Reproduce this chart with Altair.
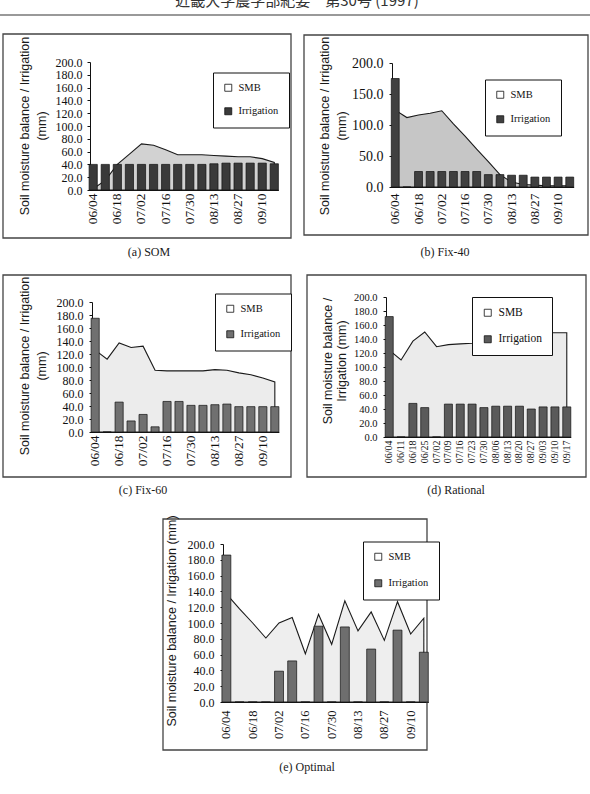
import altair as alt
import pandas as pd

W, H = 590, 794

# ---------------- data ----------------
dates = ["06/04", "06/11", "06/18", "06/25", "07/02", "07/09", "07/16", "07/23",
         "07/30", "08/06", "08/13", "08/20", "08/27", "09/03", "09/10", "09/17"]
tick_dates = dates[::2]

som_smb = [2, 15, 40, 56, 72, 70, 63, 55, 55, 55, 54, 53, 52, 52, 49, 43]
som_irr = [40, 40, 40, 40, 40, 40, 40, 40, 40, 40, 41, 42, 42, 42, 42, 41]

fix40_smb = [124, 112, 116, 119, 123, 102, 82, 61, 41, 20, 8, 4, 3, 2, 2, 2]
fix40_irr = [175, 0, 25, 25, 25, 25, 25, 25, 20, 20, 19, 19, 16, 16, 16, 16]

fix60_smb = [126, 112, 137, 130, 132, 95, 94, 94, 94, 94, 96, 95, 91, 88, 83, 77]
fix60_irr = [175, 0, 46, 17, 27, 8, 47, 47, 41, 41, 42, 43, 39, 39, 39, 39]

rational_smb = [124, 110, 137, 150, 129, 132, 133, 134, 137, 140, 143, 145, 147, 149, 149, 149]
rational_irr = [172, 0, 48, 42, 0, 47, 47, 47, 42, 44, 44, 44, 40, 43, 43, 43]

optimal_smb = [137, 118, 100, 81, 100, 107, 61, 111, 73, 128, 90, 114, 78, 127, 86, 106]
optimal_irr = [186, 0, 0, 0, 39, 52, 0, 96, 0, 95, 0, 67, 0, 91, 0, 63]

legend_labels = ["SMB", "Irrigation"]
captions = ["(a) SOM", "(b) Fix-40", "(c) Fix-60", "(d) Rational", "(e) Optimal"]
title_full = "Soil moisture balance / Irrigation"
title_mm = "(mm)"
title_d1 = "Soil moisture balance /"
title_d2 = "Irrigation (mm)"
title_e = "Soil moisture balance / Irrigation (mm)"
header_text = "近畿大学農学部紀要　第30号 (1997)"

SERIF = "Liberation Serif"
SANS = "Liberation Sans"

# ---------------- layout / style ----------------
panels = [
    dict(smb=som_smb, irr=som_irr, xr=(89.1, 278.4), ytop=62, ybot=190, yx=90, ystep=20,
         yfs=12, ypad=5, xfs=13.5, xpad=3, xvals=tick_dates, leg=(213, 72.5), lfs=10.5, rowpad=12.5,
         area="#d2d2d2", bar="#3a3a3a", box=(3, 34, 291, 238)),
    dict(smb=fix40_smb, irr=fix40_irr, xr=(391.3, 573.7), ytop=63, ybot=187, yx=392, ystep=50,
         yfs=14, ypad=6, xfs=13.5, xpad=6, xvals=tick_dates, leg=(485, 79.5), lfs=10.5, rowpad=13.5,
         area="#c6c6c6", bar="#404040", box=(304, 35, 588, 235)),
    dict(smb=fix60_smb, irr=fix60_irr, xr=(91.1, 278.9), ytop=302, ybot=432, yx=92, ystep=20,
         yfs=12, ypad=6, xfs=13.5, xpad=3, xvals=tick_dates, leg=(215, 293.5), lfs=10.5, rowpad=14.5,
         area="#ececec", bar="#707070", box=(3, 275, 291, 477)),
    dict(smb=rational_smb, irr=rational_irr, xr=(385.2, 570.8), ytop=297, ybot=437, yx=386, ystep=20,
         yfs=10.5, ypad=6, xfs=10, xpad=3, xvals=dates, leg=(472, 297), lfs=11.5, rowpad=13.5,
         area="#ebebeb", bar="#5a5a5a", box=(307, 275, 586, 477)),
    dict(smb=optimal_smb, irr=optimal_irr, xr=(221.9, 428.3), ytop=544, ybot=702, yx=223, ystep=20,
         yfs=12, ypad=6, xfs=12.5, xpad=8, xvals=tick_dates, leg=(363, 541.5), lfs=10.5, rowpad=15.5,
         area="#eeeeee", bar="#6e6e6e", box=(163, 519, 427, 750)),
]

texts = [
    # (text, x, y, angle, font, size)
    (title_full, 25, 126, 270, SANS, 12.5), (title_mm, 42, 126, 270, SANS, 12.5),
    (title_full, 325, 126, 270, SANS, 12.5), (title_mm, 342, 126, 270, SANS, 12.5),
    (title_full, 25, 366, 270, SANS, 12.5), (title_mm, 42, 366, 270, SANS, 12.5),
    (title_d1, 328, 361, 270, SANS, 12.5), (title_d2, 342, 361, 270, SANS, 12.5),
    (title_e, 172, 621, 270, SANS, 12.5),
    (captions[0], 149, 252, 0, SERIF, 12), (captions[1], 445, 252, 0, SERIF, 12),
    (captions[2], 143, 490, 0, SERIF, 12), (captions[3], 456, 490, 0, SERIF, 12),
    (captions[4], 307, 767, 0, SERIF, 12),
]

one = pd.DataFrame({"k": [0]})


def make_panel(p):
    df = pd.DataFrame({"date": dates, "SMB": p["smb"], "Irrigation": p["irr"],
                       "series": ["Irrigation"] * len(dates)})
    xscale = alt.Scale(domain=dates, range=list(p["xr"]), paddingInner=0.32, paddingOuter=0)
    yscale = alt.Scale(domain=[0, 200], range=[p["ybot"], p["ytop"]], nice=False)
    xaxis = alt.Axis(orient="bottom", offset=p["ybot"] - H, values=p["xvals"], labelAngle=270,
                     labelFont=SERIF, labelFontSize=p["xfs"], labelColor="#111",
                     labelPadding=p["xpad"], ticks=False, domainColor="#111", domainWidth=1,
                     grid=False, labelOverlap=False, title=None)
    yaxis = alt.Axis(orient="left", offset=-p["yx"], values=list(range(0, 201, p["ystep"])),
                     format=".1f", labelFont=SERIF, labelFontSize=p["yfs"], labelColor="#111",
                     labelPadding=p["ypad"], tickSize=3, tickColor="#111", domainColor="#111",
                     domainWidth=1, grid=False, labelOverlap=False, title=None)
    base = alt.Chart(df)
    area = base.mark_area(fill=p["area"], stroke="#1a1a1a", strokeWidth=1.1).encode(
        x=alt.X("date:O", scale=xscale, axis=xaxis, bandPosition=0.5),
        y=alt.Y("SMB:Q", scale=yscale, axis=yaxis),
    )
    bars = base.mark_bar(stroke="#111", strokeWidth=0.7).encode(
        x=alt.X("date:O", scale=xscale, axis=xaxis),
        y=alt.Y("Irrigation:Q", scale=yscale, axis=yaxis),
        color=alt.Color("series:N",
                        scale=alt.Scale(domain=legend_labels, range=["white", p["bar"]]),
                        legend=alt.Legend(orient="none", legendX=p["leg"][0], legendY=p["leg"][1],
                                          title=None, direction="vertical", symbolType="square",
                                          symbolSize=49, symbolStrokeColor="#111",
                                          symbolStrokeWidth=0.8, labelFont=SERIF,
                                          labelFontSize=p["lfs"], labelColor="#111",
                                          fillColor="white", strokeColor="#111", padding=10,
                                          rowPadding=p["rowpad"], labelOffset=5)),
    )
    return alt.layer(area, bars)


boxes = []
for p in panels:
    x0, y0, x1, y1 = p["box"]
    boxes.append(alt.Chart(one).mark_rect(fill="transparent", stroke="#444", strokeWidth=1.3).encode(
        x=alt.value(x0), x2=alt.value(x1), y=alt.value(y0), y2=alt.value(y1)))

text_layers = []
for (t, x, y, ang, font, size) in texts:
    text_layers.append(alt.Chart(pd.DataFrame({"t": [t]})).mark_text(
        angle=ang, align="center", baseline="middle", font=font, fontSize=size, color="#1a1a1a"
    ).encode(text="t:N", x=alt.value(x), y=alt.value(y)))

header = alt.Chart(pd.DataFrame({"t": [header_text]})).mark_text(
    align="center", baseline="alphabetic", font="Noto Sans CJK JP", fontSize=15, color="#333"
).encode(text="t:N", x=alt.value(297), y=alt.value(6))

header_rule = alt.Chart(one).mark_rule(color="#777", strokeWidth=1.5).encode(
    x=alt.value(0), x2=alt.value(W), y=alt.value(15))

chart = alt.layer(
    *boxes, *[make_panel(p) for p in panels], *text_layers, header, header_rule
).resolve_scale(
    x="independent", y="independent", color="independent"
).properties(
    width=W, height=H, padding=0, autosize=alt.AutoSizeParams(type="none")
).configure_view(stroke=None)

chart.save("out.html", embed_options={"renderer": "svg", "actions": False})
